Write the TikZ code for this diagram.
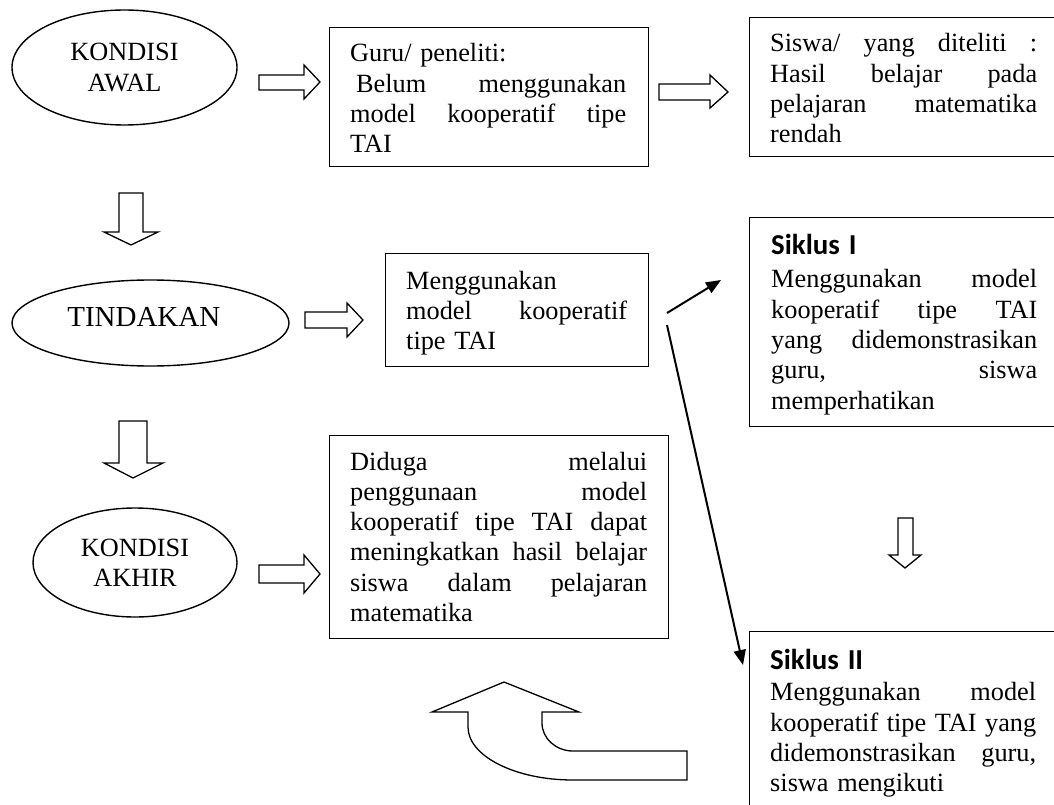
\documentclass[tikz,border=0pt]{standalone}
\usepackage{fontspec}
\setmainfont{Liberation Serif}
\newfontfamily\carlito{Carlito}
\usetikzlibrary{shapes.geometric,arrows.meta}
\newcommand\jl[1]{\leavevmode\hbox to \hsize{\spaceskip=0.25em plus 10em minus 0.05em\relax #1}}
\tikzset{
  box/.style={draw, line width=1.4pt, inner sep=0pt, anchor=north west},
  txt/.style={inner sep=0pt, anchor=base west, align=left, font=\fontsize{26.3}{30.3}\selectfont},
  oval/.style={draw, ellipse, line width=1.4pt, inner sep=0pt, align=center, font=\fontsize{26.3}{30.3}\selectfont},
  blk/.style={draw, line width=1.3pt, fill=white},
  conn/.style={line width=2pt, -{Triangle[length=15pt,width=12pt]}}
}
\newcommand\hd[1]{{\fontsize{28.9}{30.3}\carlito\bfseries #1}}
\begin{document}
\begin{tikzpicture}[x=1pt,y=-1pt]
\useasboundingbox (0,0) rectangle (1054,805);
\clip (0,0) rectangle (1054,805);
\fill[white] (0,0) rectangle (1054,805);

% ellipses
\node[oval, minimum width=225pt, minimum height=115pt] (e1) at (124.5,67.5) {KONDISI\\AWAL};
\node[oval, minimum width=277pt, minimum height=86pt, font=\fontsize{29}{32}\selectfont] (e2) at (150.5,323) {\hspace*{-6.7pt}\raisebox{6pt}[\height][\depth]{TINDAKAN}\hspace*{6.7pt}};
\node[oval, minimum width=204pt, minimum height=109pt] (e3) at (135,562.5) {KONDISI\\AKHIR};

% boxes
\node[box, minimum width=319pt, minimum height=139pt] (b1) at (329,27) {};
\node[box, minimum width=311pt, minimum height=139pt] (b2) at (749,17) {};
\node[box, minimum width=263pt, minimum height=113pt] (b3) at (385,253) {};
\node[box, minimum width=311pt, minimum height=209pt] (b4) at (749,217) {};
\node[box, minimum width=339pt, minimum height=203pt] (b5) at (329,435) {};
\node[box, minimum width=311pt, minimum height=200pt] (b6) at (749,631) {};

% texts
\node[txt, text width=276pt] (t1) at (350,62) {Guru/ peneliti:\\
\jl{\hspace*{6pt}Belum menggunakan}\\
\jl{model kooperatif tipe}\\
TAI};
\node[txt, text width=267pt] (t2) at (770,52) {\jl{Siswa/ yang diteliti :}\\
\jl{Hasil belajar pada}\\
\jl{pelajaran matematika}\\
rendah};
\node[txt, text width=221pt] (t3) at (406,289) {Menggunakan\\
\jl{model kooperatif}\\
tipe TAI};
\node[txt, text width=266pt] (t4) at (771,254) {\hd{Siklus I}\\[3.5pt]
\jl{Menggunakan model}\\
\jl{kooperatif tipe TAI}\\
\jl{yang didemonstrasikan}\\
\jl{guru, siswa}\\
memperhatikan};
\node[txt, text width=297pt] (t5) at (350,470) {\jl{Diduga melalui}\\
\jl{penggunaan model}\\
\jl{kooperatif tipe TAI dapat}\\
\jl{meningkatkan hasil belajar}\\
\jl{siswa dalam pelajaran}\\
matematika};
\node[txt, text width=266pt] (t6) at (770,669) {\hd{Siklus II}\\[1.5pt]
\jl{Menggunakan model}\\
\jl{kooperatif tipe TAI yang}\\
\jl{didemonstrasikan guru,}\\
siswa mengikuti};

% block arrows (right)
\draw[blk] (259,75) -- (304,75) -- (304,65) -- (320,82) -- (304,99) -- (304,90) -- (259,90) -- cycle;
\draw[blk] (659,84) -- (710,84) -- (710,75) -- (728,92) -- (710,108) -- (710,100) -- (659,100) -- cycle;
\draw[blk] (305,312) -- (347,312) -- (347,303) -- (363,320) -- (347,337) -- (347,328) -- (305,328) -- cycle;
\draw[blk] (259,565) -- (304,565) -- (304,555) -- (320,574) -- (304,593) -- (304,583) -- (259,583) -- cycle;
% block arrows (down)
\draw[blk] (119,193) -- (143,193) -- (143,232) -- (158,232) -- (131,245) -- (104,232) -- (119,232) -- cycle;
\draw[blk] (119,421) -- (147,421) -- (147,463) -- (163,463) -- (133,478) -- (104,463) -- (119,463) -- cycle;
\draw[blk] (898,518) -- (913,518) -- (913,555) -- (921,555) -- (905,568) -- (889,555) -- (898,555) -- cycle;
% curved block arrow
\draw[blk] (504,682) -- (579,712) -- (542,712) -- (542,723)
  .. controls (542,738.5) and (556,751) .. (573,751)
  -- (687,751) -- (687,780) -- (573,780)
  .. controls (515,780) and (468,756) .. (468,727)
  -- (468,712) -- (432,712) -- cycle;

% line connectors
\coordinate (p1) at (667,313);
\coordinate (q1) at (721,280);
\coordinate (p2) at (667,325);
\coordinate (q2) at (743,665);
\draw[conn] (p1) -- (q1);
\draw[conn] (p2) -- (q2);
\end{tikzpicture}
\end{document}
